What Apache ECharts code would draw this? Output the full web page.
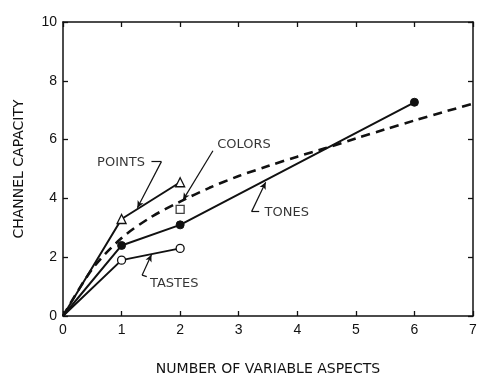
<!DOCTYPE html>
<html><head><meta charset="utf-8">
<script src="https://cdn.jsdelivr.net/npm/echarts@6/dist/echarts.min.js"></script>
<style>html,body{margin:0;padding:0;background:#fff}#c{width:498px;height:382px}</style>
</head><body><div id="c"></div>
<script>
// ---- data ----
const pointsX = [0, 1, 2];
const pointsY = [0, 3.3, 4.55];
const tonesX = [0, 1, 2, 6];
const tonesY = [0, 2.4, 3.1, 7.27];
const tastesX = [0, 1, 2];
const tastesY = [0, 1.9, 2.3];
const colorsX = [2];
const colorsY = [3.63];
const curveX = [0, 0.5, 1, 1.5, 2, 2.5, 3, 3.5, 4, 4.5, 5, 5.5, 6, 6.5, 7];
const curveY = [0, 1.6, 2.65, 3.36, 3.89, 4.36, 4.76, 5.1, 5.42, 5.72, 6.04, 6.35, 6.65, 6.94, 7.22];
const xTicks = [0, 1, 2, 3, 4, 5, 6, 7];
const yTicks = [0, 2, 4, 6, 8, 10];
const labelNames = ['POINTS', 'COLORS', 'TONES', 'TASTES'];
const labelPos = [[0.99, 5.2], [3.09, 5.82], [3.82, 3.5], [1.9, 1.11]];
// leader lines (data coordinates), last point carries the arrow
const leaders = [
  [[1.51, 5.25], [1.68, 5.25], [1.27, 3.68]],
  [[2.56, 5.62], [2.05, 3.95]],
  [[3.35, 3.55], [3.22, 3.55], [3.46, 4.55]],
  [[1.43, 1.34], [1.35, 1.39], [1.51, 2.08]]
];

const zip = (xs, ys) => xs.map((x, i) => [x, ys[i]]);
const FONT = 'Liberation Sans';
const FONT2 = 'DejaVu Sans';
const leaderLines = [];
leaders.forEach(pts => {
  for (let i = 0; i < pts.length - 1; i++) {
    const last = i === pts.length - 2;
    leaderLines.push([
      { coord: pts[i], symbol: 'none' },
      { coord: pts[i + 1], symbol: last ? 'arrow' : 'none', symbolSize: last ? [5, 7] : 0 }
    ]);
  }
});
const noOrigin = (xs, ys) => zip(xs, ys).map((d, i) => i === 0 ? { value: d, symbol: 'none' } : d);

const chart = echarts.init(document.getElementById('c'), null, { renderer: 'canvas' });
const axisCommon = {
  type: 'value',
  axisLine: { show: true, onZero: false, lineStyle: { color: '#111', width: 1.5 } },
  axisTick: { show: true, inside: true, length: 5, lineStyle: { color: '#111', width: 1.3 } },
  splitLine: { show: false }
};
chart.setOption({
  animation: false,
  backgroundColor: '#fff',
  grid: { left: 63, right: 25, top: 22, bottom: 66 },
  xAxis: [
    Object.assign({}, axisCommon, {
      min: 0, max: 7, interval: 1, position: 'bottom',
      name: 'NUMBER OF VARIABLE ASPECTS', nameLocation: 'middle', nameGap: 46,
      nameTextStyle: { fontFamily: FONT2, fontSize: 14, color: '#111' },
      axisLabel: { margin: 7, fontFamily: FONT, fontSize: 14, color: '#111',
        formatter: v => xTicks.includes(v) ? String(v) : '' }
    }),
    Object.assign({}, axisCommon, {
      min: 0, max: 7, interval: 1, position: 'top', axisLabel: { show: false }
    })
  ],
  yAxis: [
    Object.assign({}, axisCommon, {
      min: 0, max: 10, interval: 2, position: 'left',
      name: 'CHANNEL CAPACITY', nameLocation: 'middle', nameGap: 37, nameRotate: 90,
      nameTextStyle: { fontFamily: FONT2, fontSize: 14, color: '#111' },
      axisLabel: { margin: 6, fontFamily: FONT, fontSize: 14, color: '#111',
        formatter: v => yTicks.includes(v) ? String(v) : '' }
    }),
    Object.assign({}, axisCommon, {
      min: 0, max: 10, interval: 2, position: 'right', axisLabel: { show: false }
    })
  ],
  series: [
    {
      name: 'curve', type: 'line', data: zip(curveX, curveY), smooth: 0.3, showSymbol: false,
      symbol: 'none', lineStyle: { color: '#111', width: 2.6, type: [9, 6] }, z: 2
    },
    {
      name: 'POINTS', type: 'line', data: noOrigin(pointsX, pointsY),
      symbol: 'triangle', symbolSize: 9,
      itemStyle: { color: '#fff', borderColor: '#111', borderWidth: 1.3 },
      lineStyle: { color: '#111', width: 2 }, z: 3,
      markLine: { silent: true, symbol: ['none', 'none'], label: { show: false },
        lineStyle: { color: '#111', width: 1.2, type: 'solid' }, data: leaderLines }
    },
    {
      name: 'TONES', type: 'line', data: noOrigin(tonesX, tonesY),
      symbol: 'circle', symbolSize: 8,
      itemStyle: { color: '#111', borderColor: '#111', borderWidth: 1 },
      lineStyle: { color: '#111', width: 2 }, z: 3
    },
    {
      name: 'TASTES', type: 'line', data: noOrigin(tastesX, tastesY),
      symbol: 'circle', symbolSize: 8,
      itemStyle: { color: '#fff', borderColor: '#111', borderWidth: 1.3 },
      lineStyle: { color: '#111', width: 2 }, z: 3
    },
    {
      name: 'COLORS', type: 'scatter', data: zip(colorsX, colorsY),
      symbol: 'rect', symbolSize: 8,
      itemStyle: { color: '#fff', borderColor: '#111', borderWidth: 1.3 }, z: 4
    },
    {
      name: 'labels', type: 'scatter', symbolSize: 0, silent: true,
      itemStyle: { color: '#000' },
      data: labelPos.map((p, i) => ({ value: p, name: labelNames[i] })),
      label: { show: true, position: 'inside', formatter: p => p.name,
        fontFamily: FONT2, fontSize: 13, color: '#000', textBorderWidth: 0 }, z: 5
    }
  ]
});
</script></body></html>
